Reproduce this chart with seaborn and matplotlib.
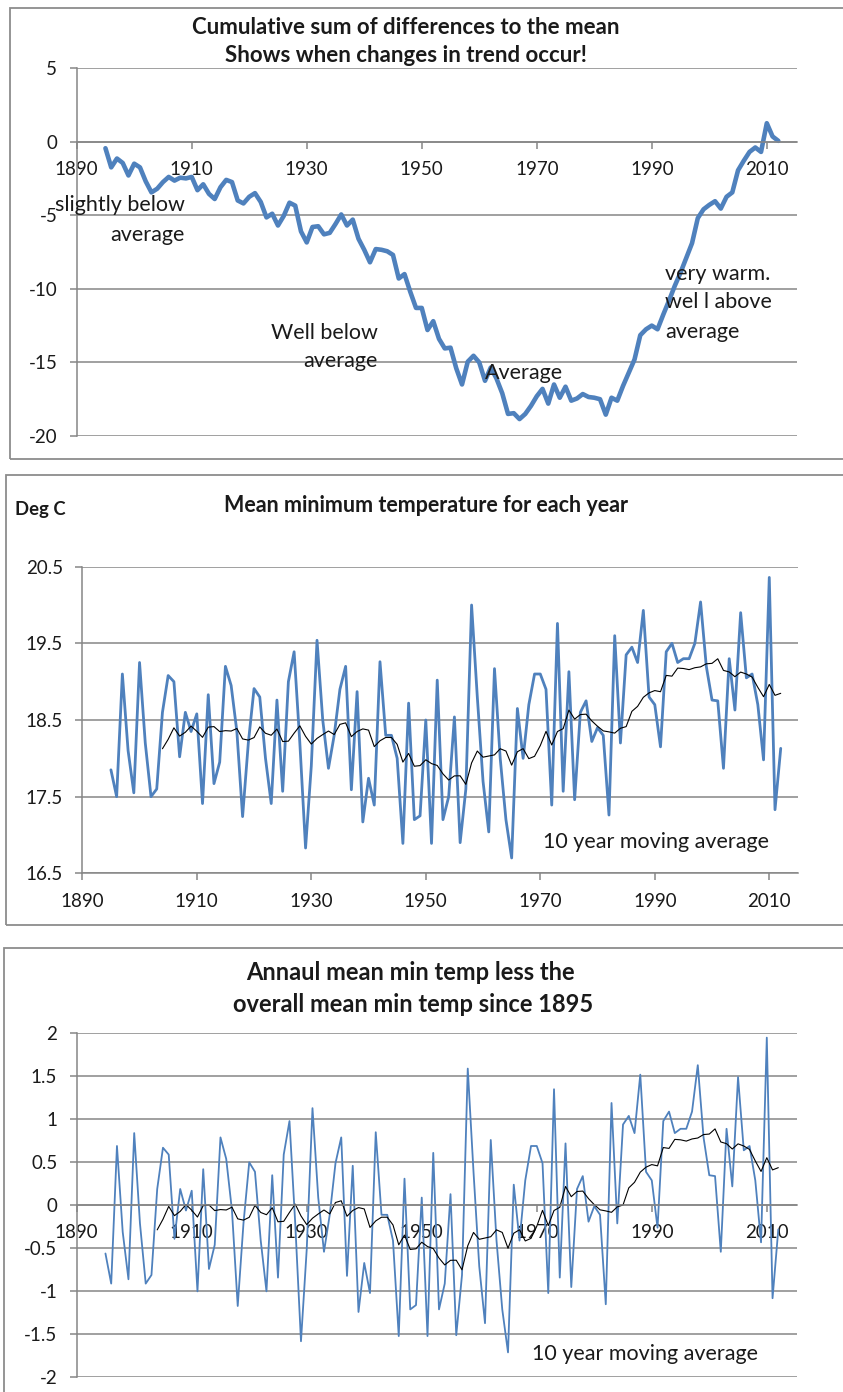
import numpy as np
import pandas as pd
import matplotlib
matplotlib.use("Agg")
import matplotlib.pyplot as plt
import seaborn as sns
from matplotlib.patches import Rectangle

years = list(range(1895, 2013))

# mean minimum temperature (Deg C), 1895-2012
min_temp = [
    17.85, 17.50, 19.10, 18.10, 17.55, 19.25, 18.20, 17.50, 17.60, 18.60,
    19.08, 19.00, 18.02, 18.60, 18.35, 18.58, 17.41, 18.83, 17.67, 17.95,
    19.20, 18.95, 18.35, 17.24, 18.20, 18.91, 18.80, 18.00, 17.41, 18.76,
    17.57, 19.00, 19.39, 18.20, 16.83, 17.90, 19.54, 18.50, 17.87, 18.30,
    18.90, 19.20, 17.59, 18.87, 17.17, 17.74, 17.39, 19.26, 18.30, 18.30,
    18.00, 16.89, 18.72, 17.20, 17.25, 18.50, 16.89, 19.02, 17.20, 17.50,
    18.54, 16.90, 17.60, 20.00, 18.80, 17.70, 17.04, 19.17, 18.00, 17.20,
    16.70, 18.65, 18.00, 18.70, 19.10, 19.10, 18.90, 17.39, 19.76, 17.57,
    19.13, 17.46, 18.60, 18.75, 18.22, 18.40, 18.30, 17.26, 19.60, 18.20,
    19.35, 19.45, 19.25, 19.93, 18.80, 18.70, 18.15, 19.39, 19.50, 19.25,
    19.30, 19.30, 19.50, 20.04, 19.20, 18.76, 18.75, 17.87, 19.30, 18.63,
    19.90, 19.05, 19.10, 18.70, 17.98, 20.36, 17.33, 18.13,
]

# cumulative sum of differences to the mean
cum_diff = [
    -0.45, -1.75, -1.15, -1.45, -2.30, -1.50, -1.75, -2.70, -3.45, -3.20,
    -2.75, -2.40, -2.65, -2.45, -2.50, -2.40, -3.30, -2.90, -3.55, -3.90,
    -3.10, -2.60, -2.75, -4.00, -4.20, -3.75, -3.50, -4.10, -5.15, -4.90,
    -5.70, -5.05, -4.15, -4.35, -6.10, -6.85, -5.80, -5.75, -6.30, -6.20,
    -5.60, -4.95, -5.70, -5.30, -6.60, -7.35, -8.20, -7.30, -7.35, -7.45,
    -7.70, -9.30, -9.00, -10.20, -11.30, -11.30, -12.80, -12.20, -13.40, -14.05,
    -14.00, -15.40, -16.50, -14.95, -14.55, -15.00, -16.25, -15.35, -16.10, -17.10,
    -18.50, -18.45, -18.85, -18.50, -17.95, -17.30, -16.80, -17.80, -16.50, -17.40,
    -16.65, -17.60, -17.45, -17.15, -17.35, -17.40, -17.50, -18.55, -17.40, -17.60,
    -16.60, -15.70, -14.80, -13.15, -12.75, -12.50, -12.75, -11.75, -10.80, -9.80,
    -8.90, -7.90, -6.90, -5.20, -4.60, -4.30, -4.05, -4.55, -3.75, -3.45,
    -1.95, -1.30, -0.70, -0.40, -0.70, 1.25, 0.35, 0.05,
]

x_ticks = [1890, 1910, 1930, 1950, 1970, 1990, 2010]

df = pd.DataFrame({"year": years, "tmin": min_temp, "cusum": cum_diff})
df["anom"] = df["tmin"] - df["tmin"].mean()
df["tmin_ma"] = df["tmin"].rolling(10).mean()
df["anom_ma"] = df["anom"].rolling(10).mean()

BLUE = "#4F81BD"
GRID = "#868686"
TXT = "#1a1a1a"

sns.set_theme(style="white")
plt.rcParams["font.family"] = ["Lato", "DejaVu Sans"]
plt.rcParams["axes.unicode_minus"] = False

W, H = 843, 1392
fig = plt.figure(figsize=(W / 100, H / 100), dpi=100)


def px_axes(left, top, right, bottom):
    return fig.add_axes([left / W, 1 - bottom / H, (right - left) / W, (bottom - top) / H])


def style_axes(ax, yticks, xmax, zero_axis):
    ax.set_xlim(1890, xmax)
    ax.set_ylim(yticks[0], yticks[-1])
    ax.set_xticks(x_ticks)
    ax.set_yticks(yticks)
    ax.set_xlabel("")
    ax.set_ylabel("")
    ax.yaxis.grid(True, color=GRID, lw=1.1)
    ax.xaxis.grid(False)
    ax.set_axisbelow(True)
    for s in ["top", "right"]:
        ax.spines[s].set_visible(False)
    for s in ["left", "bottom"]:
        ax.spines[s].set_color(GRID)
        ax.spines[s].set_linewidth(1.1)
    if zero_axis:
        ax.spines["bottom"].set_position(("data", 0))
    ax.tick_params(axis="both", direction="out", length=5, width=1.1, color=GRID,
                   labelsize=13.5, labelcolor=TXT, pad=9, bottom=True, left=True)
    if ax.get_legend():
        ax.get_legend().remove()


def frame(left, top, right, bottom):
    fig.patches.append(Rectangle((left / W, 1 - bottom / H), (right - left) / W, (bottom - top) / H,
                                 transform=fig.transFigure, fill=False, ec="#8c8c8c", lw=1.3))


notes = dict(fontsize=15.5, color=TXT, va="center")
title = dict(ha="center", va="center", fontweight="bold", color=TXT)

# ---- panel 1: cumulative sum
frame(10, 8, 860, 459)
ax1 = px_axes(76.7, 68, 796.7, 436)
sns.lineplot(data=df, x="year", y="cusum", ax=ax1, color=BLUE, lw=3.3)
style_axes(ax1, [-20, -15, -10, -5, 0, 5], 2015.2, True)
fig.text(406 / W, 1 - 27 / H, "Cumulative sum of differences to the mean", fontsize=16, **title)
fig.text(406 / W, 1 - 55 / H, "Shows when changes in trend occur!", fontsize=16, **title)
ax1.text(1908.8, -4.3, "slightly below", ha="right", **notes)
ax1.text(1908.8, -6.35, "average", ha="right", **notes)
ax1.text(1942.4, -13.0, "Well below", ha="right", **notes)
ax1.text(1942.4, -14.9, "average", ha="right", **notes)
ax1.text(1961.0, -15.7, "Average", ha="left", **notes)
ax1.text(1992.3, -9.0, "very warm.", ha="left", **notes)
ax1.text(1992.3, -10.9, "wel l above", ha="left", **notes)
ax1.text(1992.3, -12.95, "average", ha="left", **notes)

# ---- panel 2: mean minimum temperature
frame(6, 475, 860, 925)
ax2 = px_axes(82.3, 566.7, 798.3, 873.3)
sns.lineplot(data=df, x="year", y="tmin", ax=ax2, color=BLUE, lw=2.0)
sns.lineplot(data=df, x="year", y="tmin_ma", ax=ax2, color="black", lw=0.8)
style_axes(ax2, [16.5, 17.5, 18.5, 19.5, 20.5], 2015.07, False)
fig.text(426 / W, 1 - 505 / H, "Mean minimum temperature for each year", fontsize=15.5, **title)
fig.text(15 / W, 1 - 510 / H, "Deg C", ha="left", va="center", fontsize=13.3, fontweight="bold", color=TXT)
ax2.text(1970.5, 16.91, "10 year moving average", ha="left", **notes)

# ---- panel 3: anomaly
frame(4, 948, 860, 1400)
ax3 = px_axes(76.7, 1032.7, 796.7, 1376.7)
sns.lineplot(data=df, x="year", y="anom", ax=ax3, color=BLUE, lw=1.3)
sns.lineplot(data=df, x="year", y="anom_ma", ax=ax3, color="black", lw=0.8)
style_axes(ax3, [-2, -1.5, -1, -0.5, 0, 0.5, 1, 1.5, 2], 2015.2, True)
ax3.set_yticklabels(["-2", "-1.5", "-1", "-0.5", "0", "0.5", "1", "1.5", "2"])
fig.text(410 / W, 1 - 972 / H, "Annaul mean min temp less the", fontsize=17, **title)
fig.text(413 / W, 1 - 1004 / H, "overall mean min temp since 1895", fontsize=17, **title)
ax3.text(1969.2, -1.74, "10 year moving average", ha="left", **notes)

fig.savefig("out.png", dpi=100)
